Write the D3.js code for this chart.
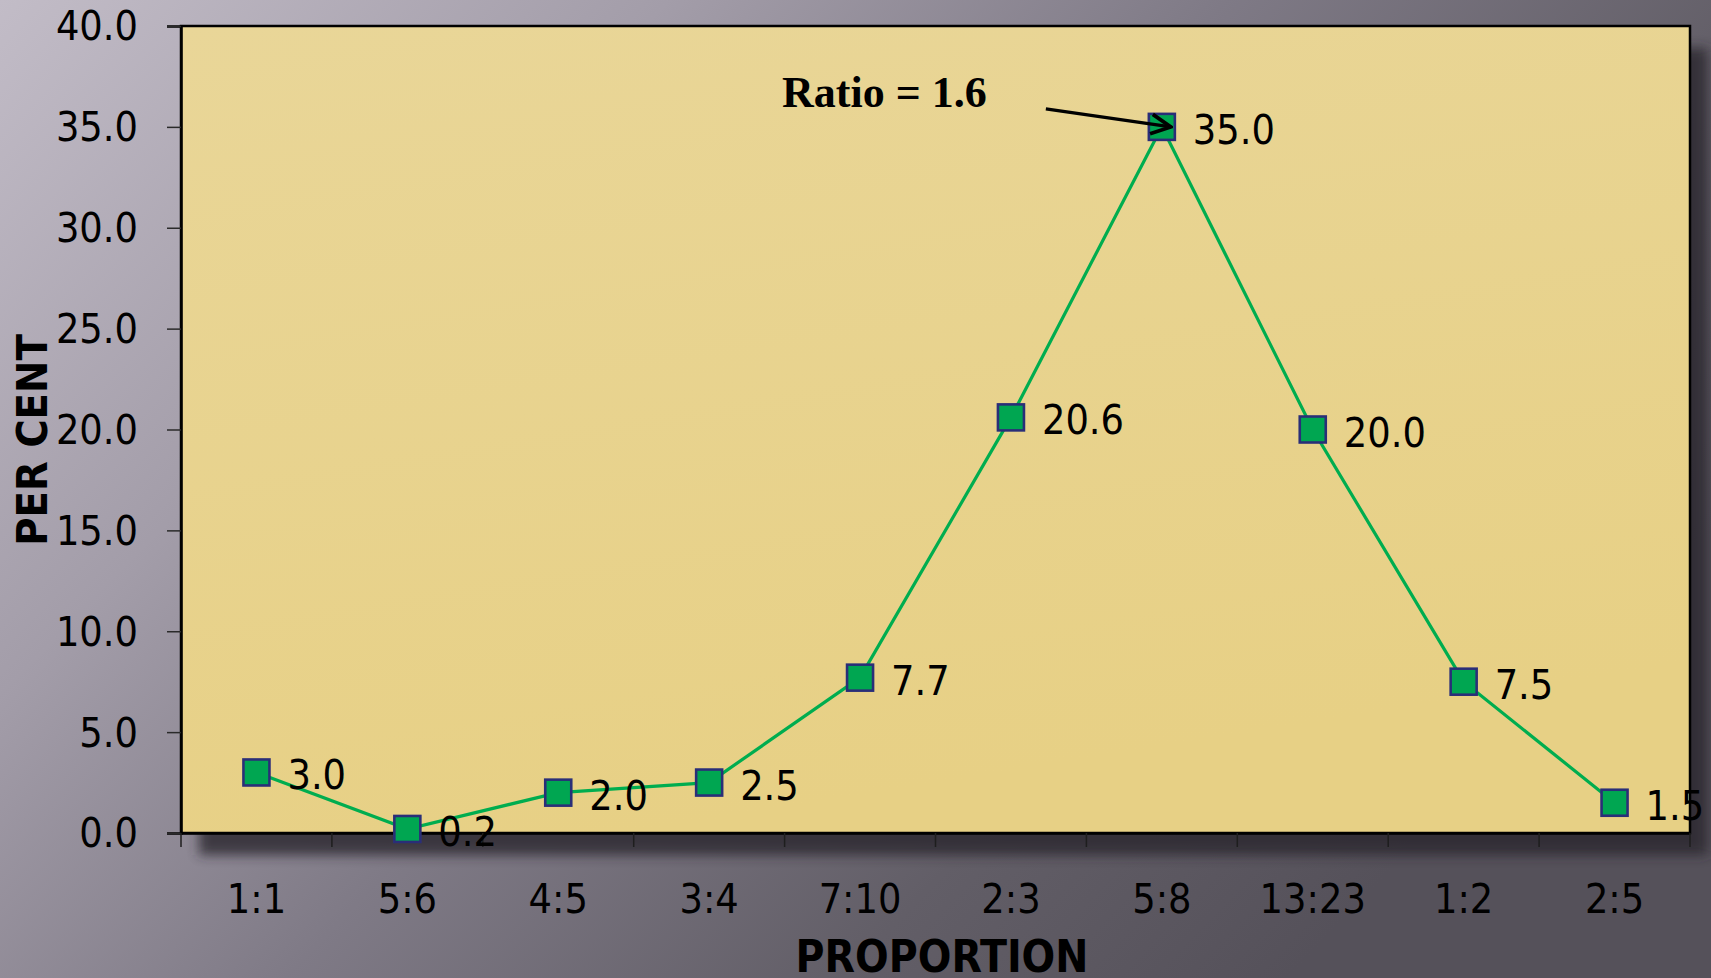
<!DOCTYPE html>
<html>
<head>
<meta charset="utf-8">
<script src="https://cdn.jsdelivr.net/npm/d3@7"></script>
<style>
  html, body { margin: 0; padding: 0; overflow: hidden; background: #8a8590; }
  svg { display: block; }
  .lbl { font-family: "DejaVu Sans Condensed", "DejaVu Sans", sans-serif; font-stretch: condensed; }
</style>
</head>
<body>
<svg id="chart" width="1711" height="978"></svg>
<script>
const categories = ["1:1", "5:6", "4:5", "3:4", "7:10", "2:3", "5:8", "13:23", "1:2", "2:5"];
const values = [3.0, 0.2, 2.0, 2.5, 7.7, 20.6, 35.0, 20.0, 7.5, 1.5];
const yTicks = [0, 5, 10, 15, 20, 25, 30, 35, 40];
const yTitle = "PER CENT";
const xTitle = "PROPORTION";
const annotationText = "Ratio = 1.6";
const annotationIndex = 6;

const W = 1711, H = 978;
const m = { left: 181, right: 1690, top: 26, bottom: 833 };

const svg = d3.select("#chart");
const defs = svg.append("defs");

const bg = defs.append("linearGradient").attr("id", "bg")
  .attr("x1", 0).attr("y1", 0).attr("x2", 1).attr("y2", 0.55);
[[0, "#c2bcc7"], [0.3, "#a39da9"], [0.55, "#7f7a86"], [0.8, "#625e67"], [1, "#55515a"]]
  .forEach(([o, c]) => bg.append("stop").attr("offset", o).attr("stop-color", c));

const pf = defs.append("linearGradient").attr("id", "plotfill")
  .attr("x1", 0).attr("y1", 0).attr("x2", 0.3).attr("y2", 1);
pf.append("stop").attr("offset", 0).attr("stop-color", "#e9d698");
pf.append("stop").attr("offset", 1).attr("stop-color", "#e7d085");

const blur = defs.append("filter").attr("id", "blur")
  .attr("x", "-10%").attr("y", "-10%").attr("width", "120%").attr("height", "130%");
blur.append("feGaussianBlur").attr("stdDeviation", 6);

const mblur = defs.append("filter").attr("id", "mblur");
mblur.append("feGaussianBlur").attr("stdDeviation", 0.6);

defs.append("marker").attr("id", "arrow")
  .attr("viewBox", "0 0 20 20").attr("refX", 18).attr("refY", 10)
  .attr("markerWidth", 7).attr("markerHeight", 7).attr("markerUnits", "strokeWidth")
  .attr("orient", "auto")
  .append("path").attr("d", "M2,2 L18,10 L2,18")
  .attr("fill", "none").attr("stroke", "#000").attr("stroke-width", 3);

svg.append("rect").attr("width", W).attr("height", H).attr("fill", "url(#bg)");

// shadow
svg.append("rect")
  .attr("x", m.left + 18).attr("y", m.top + 22)
  .attr("width", m.right - m.left).attr("height", m.bottom - m.top)
  .attr("fill", "#2a272d").attr("opacity", 0.8).attr("filter", "url(#blur)");

const x = d3.scaleBand().domain(categories).range([m.left, m.right]).padding(0);
const y = d3.scaleLinear().domain([0, 40]).range([m.bottom, m.top]);

// plot area
svg.append("rect")
  .attr("x", m.left).attr("y", m.top)
  .attr("width", m.right - m.left).attr("height", m.bottom - m.top)
  .attr("fill", "url(#plotfill)").attr("stroke", "#000").attr("stroke-width", 2.5);

// y axis
const yAxis = svg.append("g").attr("transform", `translate(${m.left},0)`)
  .call(d3.axisLeft(y).tickValues(yTicks).tickFormat(d3.format(".1f")).tickSize(14).tickPadding(29));
yAxis.select(".domain").attr("stroke", "#000").attr("stroke-width", 2.5);
yAxis.selectAll(".tick line").attr("stroke", "#2a2a2a").attr("stroke-width", 1.5);
yAxis.selectAll(".tick text").attr("class", "lbl").attr("font-size", 41).attr("fill", "#000").attr("dy", "0.34em");

// x axis labels
const xAxis = svg.append("g").attr("transform", `translate(0,${m.bottom})`)
  .call(d3.axisBottom(x).tickSize(0).tickPadding(51));
xAxis.select(".domain").attr("stroke", "#000").attr("stroke-width", 2.5);
xAxis.selectAll(".tick text").attr("class", "lbl").attr("font-size", 41).attr("fill", "#000");

// x ticks at band boundaries
const bounds = categories.map(c => x(c)).concat([x(categories[categories.length - 1]) + x.bandwidth()]);
svg.append("g").selectAll("line").data(bounds).join("line")
  .attr("x1", d => d).attr("x2", d => d)
  .attr("y1", m.bottom).attr("y2", m.bottom + 14)
  .attr("stroke", "#1e1e1e").attr("stroke-width", 1.5);

// line
const cx = d => x(d.c) + x.bandwidth() / 2;
const pts = categories.map((c, i) => ({ c, v: values[i] }));
svg.append("path").datum(pts)
  .attr("d", d3.line().x(cx).y(d => y(d.v)))
  .attr("fill", "none").attr("stroke", "#00ad4f").attr("stroke-width", 3.2);

// markers
svg.append("g").selectAll("rect").data(pts).join("rect")
  .attr("x", d => cx(d) - 13).attr("y", d => y(d.v) - 13)
  .attr("width", 26).attr("height", 26)
  .attr("fill", "#00a651").attr("stroke", "#2b2f78").attr("stroke-width", 2.6)
  .attr("filter", "url(#mblur)");

// data labels
svg.append("g").selectAll("text").data(pts).join("text")
  .attr("class", "lbl")
  .attr("x", d => cx(d) + 31).attr("y", d => y(d.v) + 17)
  .attr("font-size", 41).attr("fill", "#000")
  .text(d => d3.format(".1f")(d.v));

// axis titles
svg.append("text").attr("class", "lbl")
  .attr("transform", `translate(47,440) rotate(-90)`)
  .attr("text-anchor", "middle").attr("font-size", 43).attr("font-weight", "bold")
  .attr("fill", "#000").text(yTitle);

svg.append("text").attr("class", "lbl")
  .attr("x", 942).attr("y", 972)
  .attr("text-anchor", "middle").attr("font-size", 44).attr("font-weight", "bold")
  .attr("fill", "#000").text(xTitle);

// annotation
const ap = pts[annotationIndex];
svg.append("text")
  .attr("x", 782).attr("y", 107)
  .attr("font-family", "'Liberation Serif', 'DejaVu Serif', serif")
  .attr("font-weight", "bold").attr("font-size", 44).attr("fill", "#000")
  .text(annotationText);

svg.append("line")
  .attr("x1", cx(ap) - 116).attr("y1", y(ap.v) - 18)
  .attr("x2", cx(ap) + 9).attr("y2", y(ap.v))
  .attr("stroke", "#000").attr("stroke-width", 3.5)
  .attr("marker-end", "url(#arrow)");
</script>
</body>
</html>
